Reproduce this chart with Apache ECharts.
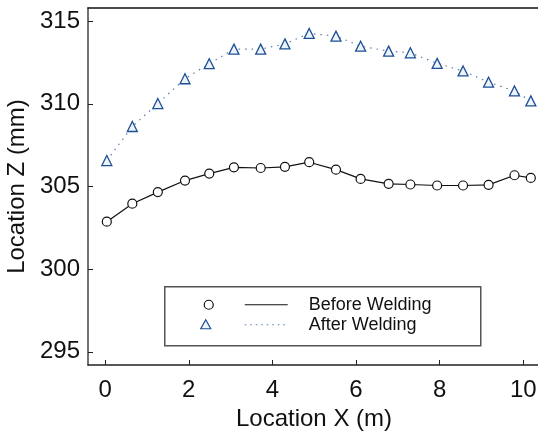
<!DOCTYPE html>
<html>
<head>
<meta charset="utf-8">
<script src="https://cdn.jsdelivr.net/npm/echarts@6/dist/echarts.min.js"></script>
<style>
  html, body { margin: 0; padding: 0; background: #fff; }
  #chart { width: 538px; height: 431px; }
</style>
</head>
<body>
<div id="chart"></div>
<script>
  const locationX = [0.04, 0.65, 1.26, 1.91, 2.49, 3.08, 3.72, 4.30, 4.88, 5.52, 6.11, 6.78, 7.30, 7.94, 8.56, 9.17, 9.79, 10.18];
  const beforeWelding = [302.87, 303.96, 304.66, 305.36, 305.78, 306.16, 306.12, 306.19, 306.47, 306.02, 305.46, 305.16, 305.12, 305.06, 305.06, 305.10, 305.68, 305.52];
  const afterWelding = [306.57, 308.63, 310.02, 311.52, 312.43, 313.31, 313.31, 313.63, 314.26, 314.10, 313.49, 313.19, 313.09, 312.45, 311.99, 311.31, 310.78, 310.18];
  const xTicks = [0, 2, 4, 6, 8, 10];
  const yTicks = [295, 300, 305, 310, 315];
  const seriesNames = ["Before Welding", "After Welding"];

  const font = "Liberation Sans, Arial, sans-serif";
  const blue = "#1d4f95";
  const chart = echarts.init(document.getElementById("chart"), null, { renderer: "canvas" });

  const pairs = (ys) => locationX.map((x, i) => [x, ys[i]]);

  chart.setOption({
    animation: false,
    backgroundColor: "#fff",
    grid: { left: 88, top: 8, width: 452, height: 357, outerBoundsMode: "none", containLabel: false },
    xAxis: [
      {
        type: "value",
        min: -0.41,
        max: 10.4,
        name: "Location X (m)",
        nameLocation: "middle",
        nameGap: 35,
        nameTextStyle: { color: "#111", fontSize: 24, fontFamily: font },
        axisLine: { onZero: false, lineStyle: { color: "#222", width: 1.5 } },
        axisTick: { inside: true, length: 5, customValues: xTicks, lineStyle: { color: "#222" } },
        axisLabel: { customValues: xTicks, color: "#111", fontSize: 24, fontFamily: font, margin: 13 },
        splitLine: { show: false },
      },
      {
        type: "value",
        position: "top",
        min: -0.41,
        max: 10.4,
        axisLine: { show: true, onZero: false, lineStyle: { color: "#111", width: 1.5 } },
        axisTick: { show: false },
        axisLabel: { show: false },
        splitLine: { show: false },
      },
    ],
    yAxis: {
      type: "value",
      min: 294.2,
      max: 315.8,
      name: "Location Z (mm)",
      nameLocation: "middle",
      nameGap: 50,
      nameTextStyle: { color: "#111", fontSize: 24, fontFamily: font },
      axisLine: { show: true, onZero: false, lineStyle: { color: "#444", width: 1.5 } },
      axisTick: { show: true, inside: true, length: 5, customValues: yTicks, lineStyle: { color: "#222" } },
      axisLabel: { customValues: yTicks, color: "#111", fontSize: 24, fontFamily: font, margin: 8 },
      splitLine: { show: false },
    },
    series: [
      {
        name: seriesNames[0],
        type: "line",
        data: pairs(beforeWelding),
        symbol: "circle",
        symbolSize: 9,
        showAllSymbol: true,
        lineStyle: { color: "#111", width: 1.2 },
        itemStyle: { color: "#fff", borderColor: "#111", borderWidth: 1.2 },
        z: 3,
      },
      {
        name: seriesNames[1],
        type: "line",
        data: pairs(afterWelding),
        symbol: "triangle",
        symbolSize: 10,
        showAllSymbol: true,
        lineStyle: { color: "#5a7db0", width: 1.2, type: [1.5, 5] },
        itemStyle: { color: "#eef3fa", borderColor: blue, borderWidth: 1.3 },
        z: 3,
      },
    ],
    graphic: [
      {
        type: "group",
        left: 164,
        top: 286,
        children: [
          { type: "rect", shape: { x: 0, y: 0, width: 316, height: 59 }, style: { fill: "#fff", stroke: "#555", lineWidth: 1.5 } },
          { type: "circle", shape: { cx: 44, cy: 18, r: 4.5 }, style: { fill: "#fff", stroke: "#111", lineWidth: 1.2 } },
          { type: "line", shape: { x1: 80, y1: 18, x2: 123, y2: 18 }, style: { stroke: "#111", lineWidth: 1.2 } },
          { type: "text", x: 144, y: 18, style: { text: seriesNames[0], fill: "#111", font: `18px ${font}`, verticalAlign: "middle" } },
          { type: "polygon", shape: { points: [[41, 33], [46, 42], [36, 42]] }, style: { fill: "#eef3fa", stroke: blue, lineWidth: 1.2 } },
          { type: "line", shape: { x1: 80, y1: 38, x2: 123, y2: 38 }, style: { stroke: "#5a7db0", lineWidth: 1.2, lineDash: [1.5, 4] } },
          { type: "text", x: 144, y: 38, style: { text: seriesNames[1], fill: "#111", font: `18px ${font}`, verticalAlign: "middle" } },
        ],
      },
    ],
  });
</script>
</body>
</html>
